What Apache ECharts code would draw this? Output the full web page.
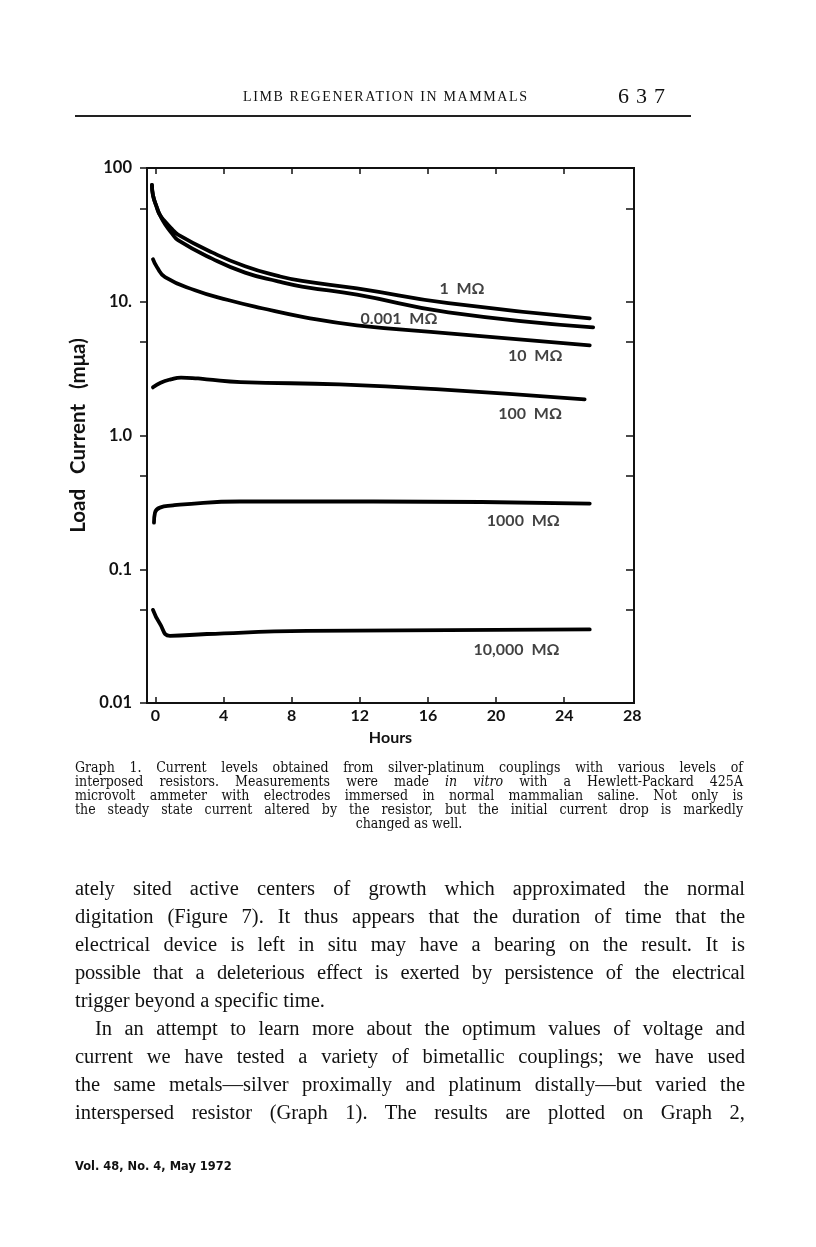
<!DOCTYPE html>
<html>
<head>
<meta charset="utf-8">
<script src="https://cdn.jsdelivr.net/npm/echarts@6.0.0/dist/echarts.min.js"></script>
<style>
  html, body { margin: 0; padding: 0; background: #fff; }
  #page { position: relative; width: 816px; height: 1247px; background: #fff; overflow: hidden; }
  #chart { position: absolute; left: 0; top: 0; width: 816px; height: 1247px; }
  .t { position: absolute; white-space: nowrap; color: #111; }
  .hdr { left: 243px; top: 89px; font-family: "Liberation Serif", serif; font-size: 14px; letter-spacing: 1.6px; }
  .pg { left: 618px; top: 83px; font-family: "Liberation Serif", serif; font-size: 22px; letter-spacing: 7px; }
  .rule { position: absolute; left: 75px; top: 115px; width: 616px; height: 1.5px; background: #222; }
  .cap { left: 75px; width: 668px; font-family: "DejaVu Serif Condensed", "DejaVu Serif", serif; font-stretch: condensed; font-size: 14px; line-height: 14px; text-align: justify; text-align-last: justify; }
  .cap.c { text-align-last: center; }
  .body { left: 75px; width: 670px; font-family: "Liberation Serif", serif; font-size: 20.5px; line-height: 28px; text-align: justify; text-align-last: justify; }
  .body.l { text-align-last: left; }
  .foot { left: 75px; top: 1158px; font-family: "DejaVu Sans", sans-serif; font-weight: bold; font-size: 13px; transform: scaleX(0.88); transform-origin: 0 0; }
</style>
</head>
<body>
<div id="page">
  <div id="chart"></div>
  <div class="t hdr">LIMB REGENERATION IN MAMMALS</div>
  <div class="t pg">637</div>
  <div class="rule"></div>

  <div class="t cap" style="top:760px">Graph 1. Current levels obtained from silver-platinum couplings with various levels of</div>
  <div class="t cap" style="top:774px">interposed resistors. Measurements were made <i>in vitro</i> with a Hewlett-Packard 425A</div>
  <div class="t cap" style="top:788px">microvolt ammeter with electrodes immersed in normal mammalian saline. Not only is</div>
  <div class="t cap" style="top:802px">the steady state current altered by the resistor, but the initial current drop is markedly</div>
  <div class="t cap c" style="top:816px">changed as well.</div>

  <div class="t body" style="top:874px">ately sited active centers of growth which approximated the normal</div>
  <div class="t body" style="top:902px">digitation (Figure 7). It thus appears that the duration of time that the</div>
  <div class="t body" style="top:930px">electrical device is left in situ may have a bearing on the result. It is</div>
  <div class="t body" style="top:958px; letter-spacing:-0.2px">possible that a deleterious effect is exerted by persistence of the electrical</div>
  <div class="t body l" style="top:986px">trigger beyond a specific time.</div>
  <div class="t body" style="top:1014px; left:95px; width:650px">In an attempt to learn more about the optimum values of voltage and</div>
  <div class="t body" style="top:1042px">current we have tested a variety of bimetallic couplings; we have used</div>
  <div class="t body" style="top:1070px">the same metals—silver proximally and platinum distally—but varied the</div>
  <div class="t body" style="top:1098px">interspersed resistor (Graph 1). The results are plotted on Graph 2,</div>

  <div class="t foot">Vol. 48, No. 4, May 1972</div>
</div>
<script>
// ---- data (hours, load current in mμa) ----
const xTickLabels = [0, 4, 8, 12, 16, 20, 24, 28];
const yTickLabels = ['0.01', '0.1', '1.0', '10.', '100'];

const hours_1M = [-0.21, -0.15, 0.09, 0.26, 0.56, 0.97, 1.32, 3.32, 5.26, 7.19, 8.6, 11.83, 17.2, 25.5];
const current_1M = [74.6, 62.8, 50.2, 44.5, 39.8, 35.0, 31.8, 23.4, 18.4, 15.6, 14.3, 12.6, 9.75, 7.52];

const hours_0001M = [-0.21, -0.15, 0.09, 0.26, 0.56, 0.97, 1.32, 3.32, 5.26, 7.19, 8.6, 11.83, 17.2, 25.7];
const current_0001M = [74.6, 62.8, 50.2, 44.5, 38.0, 32.4, 28.9, 21.0, 16.5, 14.2, 13.0, 11.3, 8.34, 6.44];

const hours_10M = [-0.15, 0.09, 0.56, 2.32, 4.26, 6.25, 8.77, 11.83, 17.2, 25.5];
const current_10M = [20.8, 18.1, 15.3, 12.2, 10.3, 8.94, 7.65, 6.67, 5.81, 4.72];

const hours_100M = [-0.15, 0.3, 0.9, 1.5, 2.5, 3.0, 5.0, 10.8, 16.7, 25.2];
const current_100M = [2.29, 2.48, 2.63, 2.71, 2.67, 2.63, 2.51, 2.41, 2.21, 1.86];

const hours_1000M = [-0.09, -0.03, 0.26, 1.03, 1.44, 4.96, 12.8, 25.5];
const current_1000M = [0.223, 0.265, 0.289, 0.300, 0.304, 0.321, 0.321, 0.310];

const hours_10000M = [-0.15, 0.26, 0.85, 3.02, 8.9, 25.5];
const current_10000M = [0.0497, 0.0391, 0.0318, 0.0328, 0.0346, 0.0355];

const seriesNames = ['1 MΩ', '0.001 MΩ', '10 MΩ', '100 MΩ', '1000 MΩ', '10,000 MΩ'];

// ---- chart ----
const chart = echarts.init(document.getElementById('chart'), null, { renderer: 'canvas' });
const FONT = 'Lato, "DejaVu Sans", sans-serif';
const zip = (xs, ys) => xs.map((x, i) => [x, ys[i]]);
const curves = [
  zip(hours_1M, current_1M), zip(hours_0001M, current_0001M), zip(hours_10M, current_10M),
  zip(hours_100M, current_100M), zip(hours_1000M, current_1000M), zip(hours_10000M, current_10000M)
];
const labelAt = [[18.0, 12.4], [14.3, 7.4], [22.3, 3.97], [22.0, 1.44], [21.6, 0.231], [21.2, 0.0249]];
const yMinor = [0.01, 0.05, 0.1, 0.5, 1, 5, 10, 50, 100];
const yMap = { '-2': yTickLabels[0], '-1': yTickLabels[1], '0': yTickLabels[2], '1': yTickLabels[3], '2': yTickLabels[4] };

const option = {
  animation: false,
  grid: { left: 147, top: 168, width: 487, height: 535, show: true, borderColor: '#111', borderWidth: 2, backgroundColor: 'transparent' },
  xAxis: [
    {
      type: 'value', min: -0.5, max: 28.1, position: 'bottom',
      axisLine: { show: true, onZero: false, lineStyle: { color: '#111', width: 2 } },
      axisTick: { show: true, inside: true, length: 6, customValues: xTickLabels.slice(0, 7), lineStyle: { color: '#111', width: 1.5 } },
      axisLabel: { show: true, customValues: xTickLabels, margin: 5, color: '#111', fontFamily: FONT, fontWeight: 'bold', fontSize: 16 },
      splitLine: { show: false },
      name: 'Hours', nameLocation: 'middle', nameGap: 27,
      nameTextStyle: { color: '#111', fontFamily: FONT, fontWeight: 'bold', fontSize: 16 }
    },
    {
      type: 'value', min: -0.5, max: 28.1, position: 'top',
      axisLine: { show: true, onZero: false, lineStyle: { color: '#111', width: 2 } },
      axisTick: { show: true, inside: true, length: 6, customValues: xTickLabels.slice(0, 7), lineStyle: { color: '#111', width: 1.5 } },
      axisLabel: { show: false }, splitLine: { show: false }
    }
  ],
  yAxis: [
    {
      type: 'log', logBase: 10, min: 0.01, max: 100, position: 'left',
      axisLine: { show: true, onZero: false, lineStyle: { color: '#111', width: 2 } },
      axisTick: { show: true, inside: false, length: 7, customValues: yMinor, lineStyle: { color: '#111', width: 1.5 } },
      axisLabel: {
        show: true, margin: 15, color: '#111', fontFamily: FONT, fontWeight: 'bold', fontSize: 16.5,
        formatter: v => { const k = String(Math.round(Math.log10(v))); return yMap[k] !== undefined ? yMap[k] : ''; }
      },
      splitLine: { show: false },
      name: 'Load   Current   (mμa)', nameLocation: 'middle', nameGap: 52, nameRotate: 90,
      nameTextStyle: { color: '#111', fontFamily: FONT, fontWeight: 'bold', fontSize: 20.5 }
    },
    {
      type: 'log', logBase: 10, min: 0.01, max: 100, position: 'right',
      axisLine: { show: true, onZero: false, lineStyle: { color: '#111', width: 2 } },
      axisTick: { show: true, inside: true, length: 8, customValues: yMinor, lineStyle: { color: '#111', width: 1.5 } },
      axisLabel: { show: false }, splitLine: { show: false }
    }
  ],
  series: curves.map((d, i) => ({
    name: seriesNames[i], type: 'line', xAxisIndex: 0, yAxisIndex: 0,
    data: d, showSymbol: false, symbol: 'none', smooth: 0.5,
    lineStyle: { color: '#000', width: 3.8, cap: 'round', join: 'round' }
  })).concat([{
    type: 'scatter', xAxisIndex: 0, yAxisIndex: 0, symbolSize: 0, silent: true,
    data: labelAt.map((p, i) => ({ value: p, name: seriesNames[i] })),
    label: {
      show: true, position: 'inside', formatter: p => p.name.replace(' M', '  M'),
      color: '#111', fontFamily: FONT, fontWeight: 'bold', fontSize: 16
    }
  }])
};
chart.setOption(option);
</script>
</body>
</html>
